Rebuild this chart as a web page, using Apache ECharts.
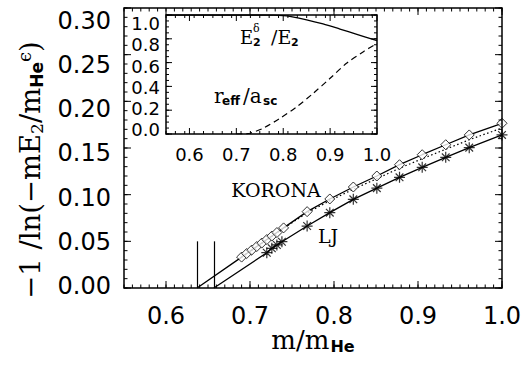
<!DOCTYPE html>
<html>
<head>
<meta charset="utf-8">
<script src="https://cdn.jsdelivr.net/npm/echarts@6/dist/echarts.min.js"></script>
<style>
  html, body { margin: 0; padding: 0; background: #fff; }
  #main { width: 531px; height: 365px; }
</style>
</head>
<body>
<div id="main"></div>
<script>
// main panel: KORONA (diamonds) and LJ (asterisks)
const koronaM = [0.69, 0.696, 0.702, 0.708, 0.714, 0.72, 0.726, 0.732, 0.74, 0.768, 0.795, 0.823, 0.851, 0.878, 0.905, 0.933, 0.961, 1.0];
const koronaY = [0.0331, 0.0369, 0.0406, 0.0444, 0.0481, 0.0519, 0.0556, 0.0594, 0.0644, 0.0818, 0.0954, 0.1082, 0.120, 0.1321, 0.1428, 0.1535, 0.164, 0.1765];
const koronaDotM = [0.69, 0.74, 0.768, 0.795, 0.823, 0.851, 0.878, 0.905, 0.933, 0.961, 1.0];
const koronaDotY = [0.0331, 0.0640, 0.0805, 0.0935, 0.1058, 0.1172, 0.1283, 0.1385, 0.1487, 0.1588, 0.1715];
const koronaZero = 0.637;
const ljM = [0.72, 0.726, 0.732, 0.738, 0.768, 0.795, 0.823, 0.851, 0.878, 0.905, 0.933, 0.961, 1.0];
const ljY = [0.0378, 0.0425, 0.0461, 0.0496, 0.0664, 0.0807, 0.095, 0.107, 0.1186, 0.1293, 0.140, 0.1504, 0.164];
const ljZero = 0.657;
const zeroMarkTop = 0.05;

// inset: E2^delta/E2 (solid) and r_eff/a_sc (dashed)
const ratioM = [0.55, 0.60, 0.65, 0.70, 0.75, 0.78, 0.80, 0.814, 0.85, 0.885, 0.921, 0.957, 1.0];
const ratioY = [1, 1, 1, 1, 1, 0.999, 0.995, 0.988, 0.960, 0.925, 0.882, 0.838, 0.785];
const rEffM = [0.70, 0.72, 0.729, 0.757, 0.793, 0.829, 0.864, 0.90, 0.935, 0.971, 1.0];
const rEffY = [0, 0.001, 0.006, 0.048, 0.132, 0.229, 0.342, 0.468, 0.594, 0.692, 0.762];

// tick labels
const xTicks = [0.6, 0.7, 0.8, 0.9, 1.0];
const mainYTicks = [0, 0.05, 0.1, 0.15, 0.2, 0.25, 0.3];
const insetYTicks = [0, 0.2, 0.4, 0.6, 0.8, 1.0];

const zip = (xs, ys) => xs.map((x, i) => [x, ys[i]]);
const range = (a, b, step) => {
  const out = [];
  for (let v = a; v <= b + 1e-9; v += step) out.push(+v.toFixed(3));
  return out;
};

const sans = "DejaVu Sans";
const serif = "DejaVu Serif";
const asterisk = "path://M0,-10L0,10M-10,0L10,0M-7,-7L7,7M-7,7L7,-7";

// the axis ticks/frame would not draw here, so the IDL-style box with
// inward ticks is a custom series placed through the axes' own scales
function frame(spec) {
  return function (params, api) {
    const p0 = api.coord([0.55, 0]);
    const p1 = api.coord([1.0, spec.yMax]);
    const left = p0[0], bottom = p0[1], right = p1[0], top = p1[1];
    const thin = { stroke: "#000", lineWidth: 1 };
    const kids = [{
      type: "rect",
      shape: { x: left, y: top, width: right - left, height: bottom - top },
      style: { stroke: "#000", lineWidth: 1.5, fill: "none" },
    }];
    const seg = (x1, y1, x2, y2) => kids.push({ type: "line", shape: { x1, y1, x2, y2 }, style: thin });
    const xt = (vals, len) => vals.forEach(v => {
      const x = api.coord([v, 0])[0];
      seg(x, bottom, x, bottom - len);
      seg(x, top, x, top + len);
    });
    const yt = (vals, len) => vals.forEach(v => {
      const y = api.coord([0.55, v])[1];
      seg(left, y, left + len, y);
      seg(right, y, right - len, y);
    });
    xt(spec.xMinor, spec.minor);
    xt(xTicks, spec.major);
    yt(spec.yMinor, spec.minor);
    yt(spec.yMajor, spec.major);
    return { type: "group", children: kids };
  };
}

const mainFrame = frame({
  yMax: 0.3, yMajor: mainYTicks, yMinor: range(0, 0.3, 0.01),
  xMinor: range(0.55, 1.0, 0.01), major: 7, minor: 3.5,
});
const insetFrame = frame({
  yMax: 1, yMajor: insetYTicks, yMinor: range(0, 1, 0.05),
  xMinor: range(0.55, 1.0, 0.02), major: 6, minor: 3,
});

function xLabelAxis(grid, size, margin) {
  return {
    type: "value", gridIndex: grid, min: 0.55, max: 1.0, position: "bottom",
    splitLine: { show: false },
    axisLine: { show: false, onZero: false },
    axisTick: { show: false },
    axisLabel: { show: true, customValues: xTicks, color: "#000", fontFamily: sans, fontSize: size, margin: margin,
      formatter: v => v.toFixed(1) },
  };
}

// labels sit a little tighter than the ticks in the original figure
function yLabelAxis(grid, min, max, labels, digits, size, margin) {
  return {
    type: "value", gridIndex: grid, min: min, max: max, position: "left",
    splitLine: { show: false },
    axisLine: { show: false, onZero: false },
    axisTick: { show: false },
    axisLabel: { show: true, customValues: labels, color: "#000", fontFamily: sans, fontSize: size, margin: margin,
      formatter: v => v.toFixed(digits) },
  };
}

const mainRect = { left: 124, top: 8, width: 378, height: 280 };
const insetRect = { left: 166, top: 15, width: 211, height: 119 };

const chart = echarts.init(document.getElementById("main"), null, { renderer: "svg" });

chart.setOption({
  backgroundColor: "#fff",
  animation: false,
  grid: [
    Object.assign({}, mainRect),
    Object.assign({}, mainRect),
    Object.assign({}, insetRect),
    Object.assign({}, insetRect),
  ],
  xAxis: [
    xLabelAxis(0, 24, 16),
    { type: "value", gridIndex: 1, min: 0.55, max: 1.0, show: false },
    xLabelAxis(2, 18, 11),
    { type: "value", gridIndex: 3, min: 0.55, max: 1.0, show: false },
  ],
  yAxis: [
    { type: "value", gridIndex: 0, min: 0, max: 0.3, show: false },
    yLabelAxis(1, -0.0023, 0.3147, mainYTicks, 2, 24, 13),
    { type: "value", gridIndex: 2, min: 0, max: 1, show: false },
    yLabelAxis(3, -0.0376, 1.08, insetYTicks, 1, 18, 6),
  ],
  series: [
    {
      type: "custom", xAxisIndex: 0, yAxisIndex: 0, clip: false, silent: true,
      renderItem: mainFrame, data: [[0.55, 0]], z: 5,
    },
    {
      type: "line", xAxisIndex: 0, yAxisIndex: 0, symbol: "none",
      data: [[koronaZero, 0]].concat(zip(koronaM, koronaY)),
      lineStyle: { color: "#000", width: 1.3 },
      markLine: {
        silent: true, symbol: "none", label: { show: false },
        lineStyle: { color: "#000", width: 1.2, type: "solid" },
        data: [
          [{ coord: [koronaZero, 0] }, { coord: [koronaZero, zeroMarkTop] }],
          [{ coord: [ljZero, 0] }, { coord: [ljZero, zeroMarkTop] }],
        ],
      },
    },
    {
      type: "line", xAxisIndex: 0, yAxisIndex: 0, symbol: "none",
      data: zip(koronaDotM, koronaDotY),
      lineStyle: { color: "#000", width: 1.2, type: [1.5, 2.5] },
    },
    {
      type: "line", xAxisIndex: 0, yAxisIndex: 0, symbol: "none",
      data: [[ljZero, 0]].concat(zip(ljM, ljY)),
      lineStyle: { color: "#000", width: 1.3 },
    },
    {
      type: "scatter", xAxisIndex: 0, yAxisIndex: 0, symbol: "diamond", symbolSize: 10,
      data: zip(koronaM, koronaY),
      itemStyle: { color: "#fff", borderColor: "#000", borderWidth: 1 },
      z: 4,
    },
    {
      type: "scatter", xAxisIndex: 0, yAxisIndex: 0, symbol: asterisk, symbolSize: 11,
      data: zip(ljM, ljY),
      itemStyle: { color: "none", borderColor: "#000", borderWidth: 1.2 },
      z: 4,
    },
    {
      type: "custom", xAxisIndex: 2, yAxisIndex: 2, clip: false, silent: true,
      renderItem: insetFrame, data: [[0.55, 0]], z: 5,
    },
    {
      type: "line", xAxisIndex: 2, yAxisIndex: 2, symbol: "none", smooth: 0.3,
      data: zip(ratioM, ratioY),
      lineStyle: { color: "#000", width: 1.3 },
    },
    {
      type: "line", xAxisIndex: 2, yAxisIndex: 2, symbol: "none", smooth: 0.3,
      data: zip(rEffM, rEffY),
      lineStyle: { color: "#000", width: 1.2, type: [6, 4] },
    },
  ],
  graphic: [
    {
      type: "text", x: 30, y: 170, rotation: Math.PI / 2,
      style: {
        text: "{n|\u22121 /ln(\u2212mE}{s|2}{n|/m}{h|He}{e|\u03f5}{n|)}",
        align: "center", verticalAlign: "middle",
        rich: {
          n: { fontFamily: serif, fontSize: 27.5, fill: "#000" },
          s: { fontFamily: serif, fontSize: 17, fill: "#000", padding: [14, 0, 0, 0] },
          h: { fontFamily: sans, fontWeight: "bold", fontSize: 17, fill: "#000", padding: [14, 0, 0, 0] },
          e: { fontFamily: serif, fontSize: 18, fill: "#000", padding: [0, 0, 11, 0] },
        },
      },
    },
    {
      type: "text", x: 313, y: 340,
      style: {
        text: "{n|m/m}{s|He}",
        align: "center", verticalAlign: "middle",
        rich: {
          n: { fontFamily: serif, fontSize: 26, fill: "#000" },
          s: { fontFamily: sans, fontWeight: "bold", fontSize: 16, fill: "#000", padding: [13, 0, 0, 1] },
        },
      },
    },
    { type: "text", x: 276, y: 190, style: { text: "KORONA", fontFamily: serif, fontSize: 19, fill: "#000", align: "center", verticalAlign: "middle" } },
    { type: "text", x: 328, y: 236, style: { text: "LJ", fontFamily: serif, fontSize: 19, fill: "#000", align: "center", verticalAlign: "middle" } },
    { type: "text", x: 240, y: 37, z: 10, style: { text: "E", fontFamily: serif, fontSize: 18, fill: "#000", verticalAlign: "middle" } },
    { type: "text", x: 253, y: 28, z: 10, style: { text: "\u03b4", fontFamily: serif, fontSize: 11, fill: "#000", verticalAlign: "middle" } },
    { type: "text", x: 253, y: 42, z: 10, style: { text: "2", fontFamily: sans, fontWeight: "bold", fontSize: 11, fill: "#000", verticalAlign: "middle" } },
    { type: "text", x: 271, y: 37, z: 10, style: { text: "/E", fontFamily: serif, fontSize: 19, fill: "#000", verticalAlign: "middle" } },
    { type: "text", x: 291, y: 42, z: 10, style: { text: "2", fontFamily: sans, fontWeight: "bold", fontSize: 11, fill: "#000", verticalAlign: "middle" } },
    { type: "text", x: 214, y: 96, z: 10, style: { text: "r", fontFamily: serif, fontSize: 20, fill: "#000", verticalAlign: "middle" } },
    { type: "text", x: 222, y: 101, z: 10, style: { text: "eff", fontFamily: sans, fontWeight: "bold", fontSize: 12, fill: "#000", verticalAlign: "middle" } },
    { type: "text", x: 243, y: 96, z: 10, style: { text: "/a", fontFamily: serif, fontSize: 20, fill: "#000", verticalAlign: "middle" } },
    { type: "text", x: 263, y: 101, z: 10, style: { text: "sc", fontFamily: sans, fontWeight: "bold", fontSize: 12, fill: "#000", verticalAlign: "middle" } },
  ],
});

window.onresize = chart.resize;
</script>
</body>
</html>
